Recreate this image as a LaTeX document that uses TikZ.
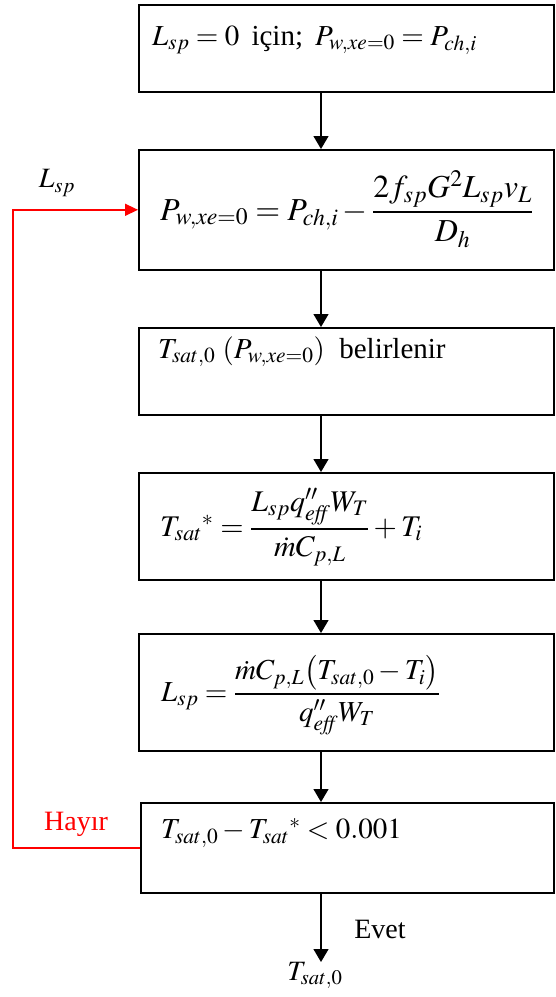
\documentclass[tikz,border=0pt]{standalone}
\usepackage{amsmath}
\usepackage{mathptmx}
\usepackage[no-math]{fontspec}
\setmainfont{Liberation Serif}
\newfontfamily\tnr{Liberation Serif}
\usetikzlibrary{arrows.meta}
\tikzset{
  box/.style={draw=black, line width=1.6pt, rectangle, inner sep=0pt, anchor=north west},
  txt/.style={inner sep=0pt, anchor=west, font=\tnr\fontsize{29}{34}\selectfont},
  lbl/.style={inner sep=0pt, font=\tnr\fontsize{28}{34}\selectfont},
  arr/.style={draw=black, line width=1.3pt, -{Triangle[length=13pt,width=15pt]}},
  redarr/.style={draw=red, line width=1.4pt, -{Triangle[length=13pt,width=12pt]}}
}
\begin{document}
\begin{tikzpicture}[x=1pt,y=-1pt]
\useasboundingbox (0,0) rectangle (555,997);
\coordinate (ax) at (321,0);
\coordinate (lp) at (13,0);
% boxes
\node[box, minimum width=415pt, minimum height=87pt] (b1) at (138,4) {};
\node[box, minimum width=415pt, minimum height=120pt] (b2) at (138,149) {};
\node[box, minimum width=415pt, minimum height=87pt] (b3) at (138,327) {};
\node[box, minimum width=415pt, minimum height=107pt] (b4) at (138,472) {};
\node[box, minimum width=415pt, minimum height=117pt] (b5) at (138,633) {};
\node[box, minimum width=413pt, minimum height=90pt] (b6) at (140,802) {};
% texts
\node[txt] (t1) at (152,40) {$L_{sp}=0$\ \,için;\ \,$P_{w,xe=0}=P_{ch,i}$};
\node[txt, font=\tnr\fontsize{32}{38}\selectfont] (t2) at (160,209) {$P_{w,xe=0}=P_{ch,i}-\dfrac{2f_{sp}G^{2}L_{sp}v_{L}}{D_{h}}$};
\node[txt] (t3) at (158,352) {$T_{sat,0}\ (P_{w,xe=0})$\ \ belirlenir};
\node[txt, font=\tnr\fontsize{30}{36}\selectfont] (t4) at (160,527) {$T_{sat}{}^{*}=\dfrac{L_{sp}q''_{\mathit{eff}}W_{T}}{\dot{m}C_{p,L}}+T_{i}$};
\node[txt] (t5) at (161,695) {$L_{sp}=\dfrac{\dot{m}C_{p,L}\bigl(T_{sat,0}-T_{i}\bigr)}{q''_{\mathit{eff}}W_{T}}$};
\node[txt] (t6) at (161,833) {$T_{sat,0}-T_{sat}{}^{*}<0.001$};
% labels
\node[lbl] (lsp) at (57,183) {$L_{sp}$};
\node[lbl, text=red] (hay) at (76,824) {Hayır};
\node[lbl] (evet) at (380,929) {Evet};
\node[lbl, anchor=north] (tout) at (315,962) {$T_{sat,0}$};
% arrows
\draw[arr] (b1.south -| ax) -- (b2.north -| ax);
\draw[arr] (b2.south -| ax) -- (b3.north -| ax);
\draw[arr] (b3.south -| ax) -- (b4.north -| ax);
\draw[arr] (b4.south -| ax) -- (b5.north -| ax);
\draw[arr] (b5.south -| ax) -- (b6.north -| ax);
\draw[arr] (b6.south -| ax) -- (tout.north -| ax);
\draw[redarr] (b6.west) -- (b6.west -| lp) -- (b2.west -| lp) -- (b2.west);
\end{tikzpicture}
\end{document}
